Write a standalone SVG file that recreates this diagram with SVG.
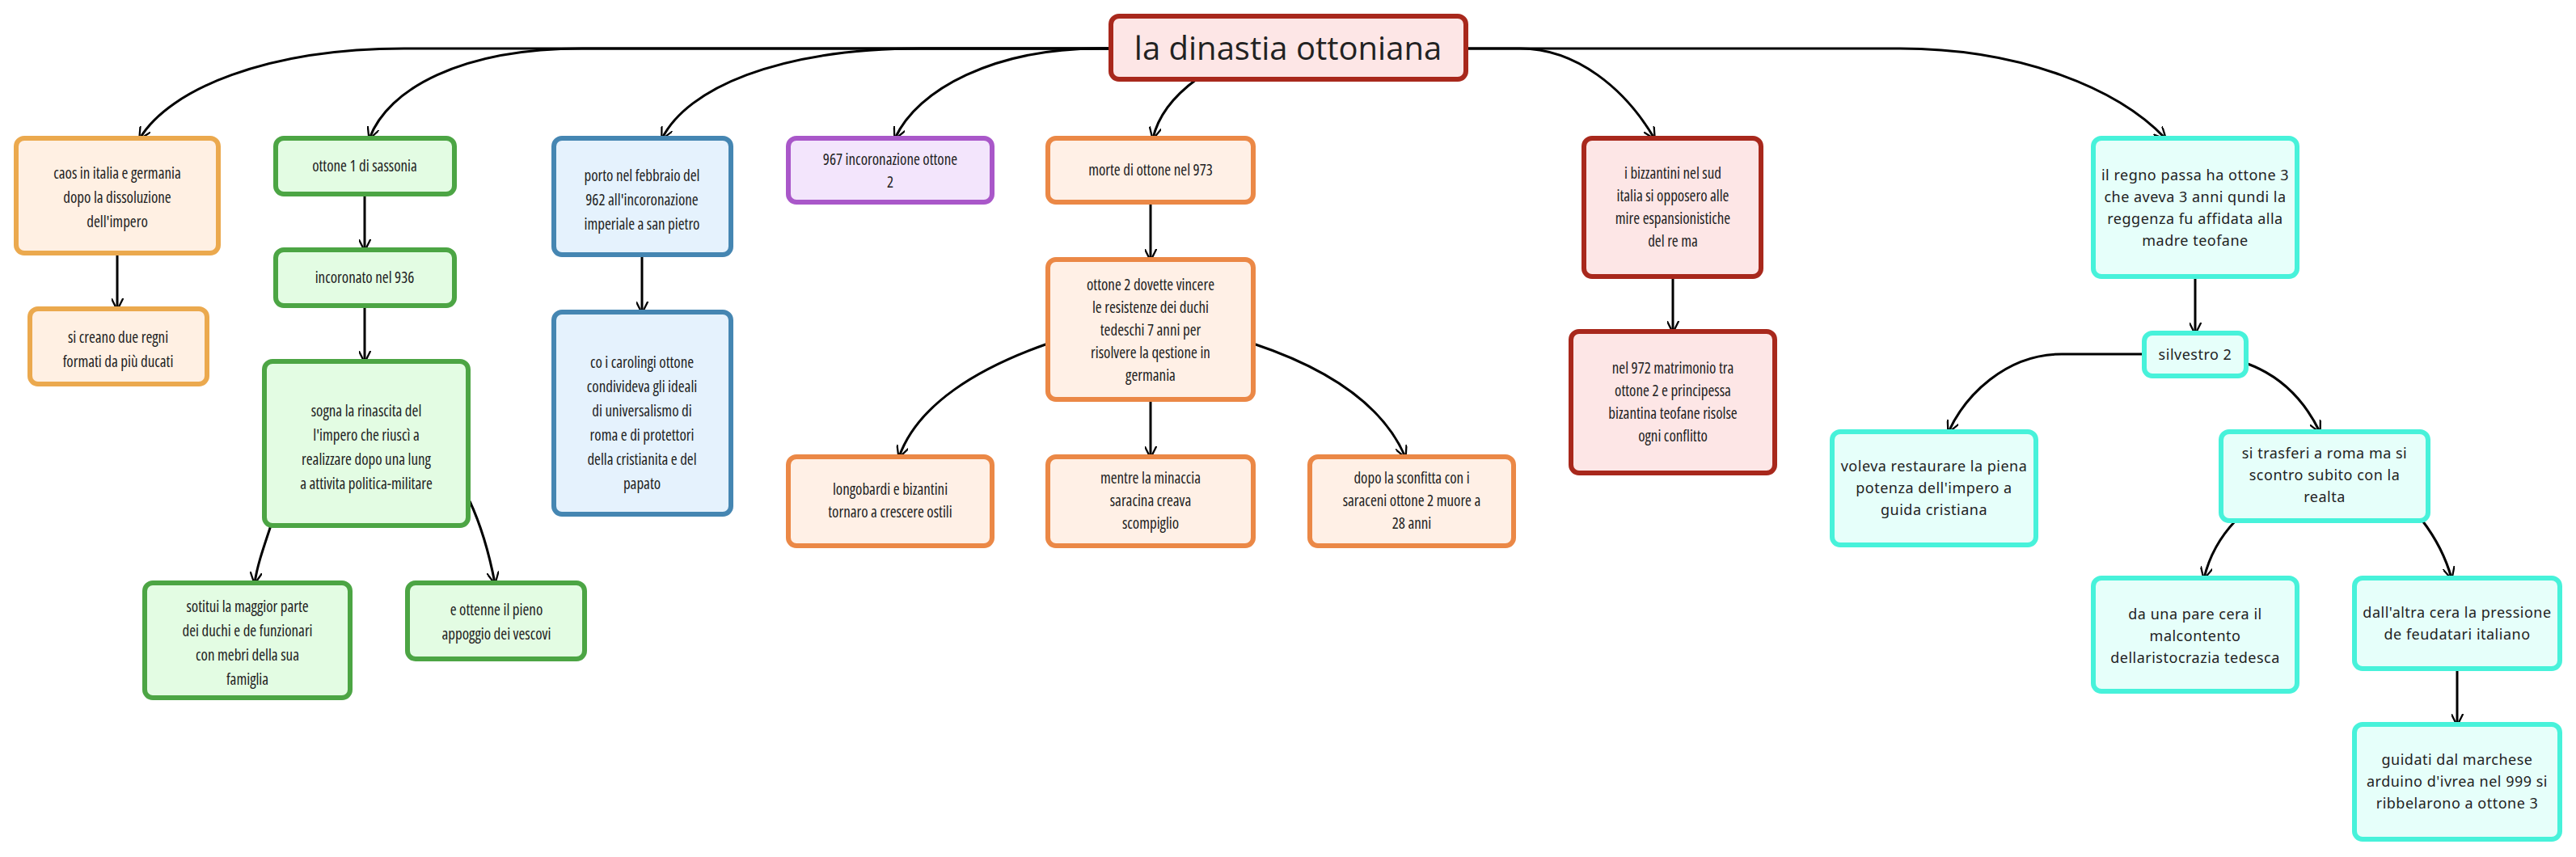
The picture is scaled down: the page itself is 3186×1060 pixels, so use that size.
<svg xmlns="http://www.w3.org/2000/svg" width="3186" height="1060" viewBox="0 0 3186 1060">
<style>
rect{stroke-width:6}
.t{font-family:"Open Sans","Noto Sans",sans-serif;font-size:19px;fill:#222;text-anchor:middle;font-stretch:condensed}
.m{font-family:"Noto Sans","Open Sans",sans-serif;font-size:18px;fill:#222;text-anchor:middle;letter-spacing:0.5px}
.c path{fill:none;stroke:#000;stroke-width:3;marker-end:url(#a)}
.or rect{fill:#FFF0E3;stroke:#EBA94E}
.gr rect{fill:#E3FCE3;stroke:#4CA544}
.bl rect{fill:#E5F2FD;stroke:#4586B2}
.pu rect{fill:#F3E5FC;stroke:#A957C9}
.o2 rect{fill:#FFF0E6;stroke:#EB8846}
.rd rect{fill:#FDE6E6;stroke:#A8281C}
.te rect{fill:#E6FFFA;stroke:#47F2DA}
</style>
<defs><marker id="a" viewBox="0 0 10 10" refX="9" refY="5" markerWidth="5" markerHeight="5" orient="auto"><path d="M0 0L10 5L0 10" fill="none" stroke="#000" stroke-width="1.5"/></marker></defs>
<g class="c">
<path d="M1374 60H500C330 60 210 110 173 171"/>
<path d="M1374 60H720C570 60 480 110 457 171"/>
<path d="M1374 60H1140C960 60 850 110 819 171"/>
<path d="M1374 60H1360C1230 60 1135 110 1107 171"/>
<path d="M1480 98C1450 120 1432 145 1426 171"/>
<path d="M1813 60H1880C1950 60 2010 110 2046 171"/>
<path d="M1813 60H2350C2500 60 2620 110 2678 171"/>
<path d="M145 313V382"/>
<path d="M451 240V309"/>
<path d="M451 378V447"/>
<path d="M335 650C325 680 318 700 315 721"/>
<path d="M581 620C595 650 606 690 612 721"/>
<path d="M794 315V386"/>
<path d="M1423 250V321"/>
<path d="M1296 425C1210 455 1135 500 1112 565"/>
<path d="M1423 494V565"/>
<path d="M1550 425C1640 455 1710 500 1738 565"/>
<path d="M2069 342V410"/>
<path d="M2715 342V412"/>
<path d="M2652 438H2550C2480 438 2430 490 2410 534"/>
<path d="M2780 450C2820 465 2850 495 2869 534"/>
<path d="M2765 644C2745 665 2732 690 2726 715"/>
<path d="M2996 644C3012 665 3025 690 3032 715"/>
<path d="M3039 827V896"/>
</g>
<g id="root" class="rd"><rect x="1374" y="20" width="439" height="78" rx="10"/><text x="1593" y="74" font-family="Open Sans,Noto Sans,sans-serif" font-size="40" text-anchor="middle" fill="#222">la dinastia ottoniana</text></g>
<g id="n1" class="or"><rect x="20" y="171" width="250" height="142" rx="10"/><text class="t" x="145" y="221">caos in italia e germania</text><text class="t" x="145" y="251">dopo la dissoluzione</text><text class="t" x="145" y="281">dell'impero</text></g>
<g id="n2" class="or"><rect x="37" y="382" width="219" height="93" rx="10"/><text class="t" x="146" y="424">si creano due regni</text><text class="t" x="146" y="454">formati da più ducati</text></g>
<g id="n3" class="gr"><rect x="341" y="171" width="221" height="69" rx="10"/><text class="t" x="451" y="212">ottone 1 di sassonia</text></g>
<g id="n4" class="gr"><rect x="341" y="309" width="221" height="69" rx="10"/><text class="t" x="451" y="350">incoronato nel 936</text></g>
<g id="n5" class="gr"><rect x="327" y="447" width="252" height="203" rx="10"/><text class="t" x="453" y="515">sogna la rinascita del</text><text class="t" x="453" y="545">l'impero che riuscì a</text><text class="t" x="453" y="575">realizzare dopo una lung</text><text class="t" x="453" y="605">a attivita politica-militare</text></g>
<g id="n6" class="gr"><rect x="179" y="721" width="254" height="142" rx="10"/><text class="t" x="306" y="757">sotitui la maggior parte</text><text class="t" x="306" y="787">dei duchi e de funzionari</text><text class="t" x="306" y="817">con mebri della sua</text><text class="t" x="306" y="847">famiglia</text></g>
<g id="n7" class="gr"><rect x="504" y="721" width="219" height="94" rx="10"/><text class="t" x="614" y="761">e ottenne il pieno</text><text class="t" x="614" y="791">appoggio dei vescovi</text></g>
<g id="n8" class="bl"><rect x="685" y="171" width="219" height="144" rx="10"/><text class="t" x="794" y="224">porto nel febbraio del</text><text class="t" x="794" y="254">962 all'incoronazione</text><text class="t" x="794" y="284">imperiale a san pietro</text></g>
<g id="n9" class="bl"><rect x="685" y="386" width="219" height="250" rx="10"/><text class="t" x="794" y="455">co i carolingi ottone</text><text class="t" x="794" y="485">condivideva gli ideali</text><text class="t" x="794" y="515">di universalismo di</text><text class="t" x="794" y="545">roma e di protettori</text><text class="t" x="794" y="575">della cristianita e del</text><text class="t" x="794" y="605">papato</text></g>
<g id="n10" class="pu"><rect x="975" y="171" width="252" height="79" rx="10"/><text class="t" x="1101" y="204">967 incoronazione ottone</text><text class="t" x="1101" y="232">2</text></g>
<g id="n11" class="o2"><rect x="1296" y="171" width="254" height="79" rx="10"/><text class="t" x="1423" y="217">morte di ottone nel 973</text></g>
<g id="n12" class="o2"><rect x="1296" y="321" width="254" height="173" rx="10"/><text class="t" x="1423" y="359">ottone 2 dovette vincere</text><text class="t" x="1423" y="387">le resistenze dei duchi</text><text class="t" x="1423" y="415">tedeschi 7 anni per</text><text class="t" x="1423" y="443">risolvere la qestione in</text><text class="t" x="1423" y="471">germania</text></g>
<g id="n13" class="o2"><rect x="975" y="565" width="252" height="110" rx="10"/><text class="t" x="1101" y="612">longobardi e bizantini</text><text class="t" x="1101" y="640">tornaro a crescere ostili</text></g>
<g id="n14" class="o2"><rect x="1296" y="565" width="254" height="110" rx="10"/><text class="t" x="1423" y="598">mentre la minaccia</text><text class="t" x="1423" y="626">saracina creava</text><text class="t" x="1423" y="654">scompiglio</text></g>
<g id="n15" class="o2"><rect x="1620" y="565" width="252" height="110" rx="10"/><text class="t" x="1746" y="598">dopo la sconfitta con i</text><text class="t" x="1746" y="626">saraceni ottone 2 muore a</text><text class="t" x="1746" y="654">28 anni</text></g>
<g id="n16" class="rd"><rect x="1959" y="171" width="219" height="171" rx="10"/><text class="t" x="2069" y="221">i bizzantini nel sud</text><text class="t" x="2069" y="249">italia si opposero alle</text><text class="t" x="2069" y="277">mire espansionistiche</text><text class="t" x="2069" y="305">del re ma</text></g>
<g id="n17" class="rd"><rect x="1943" y="410" width="252" height="175" rx="10"/><text class="t" x="2069" y="462">nel 972 matrimonio tra</text><text class="t" x="2069" y="490">ottone 2 e principessa</text><text class="t" x="2069" y="518">bizantina teofane risolse</text><text class="t" x="2069" y="546">ogni conflitto</text></g>
<g id="n18" class="te"><rect x="2589" y="171" width="252" height="171" rx="10"/><text class="m" x="2715" y="223">il regno passa ha ottone 3</text><text class="m" x="2715" y="250">che aveva 3 anni qundi la</text><text class="m" x="2715" y="277">reggenza fu affidata alla</text><text class="m" x="2715" y="304">madre teofane</text></g>
<g id="n19" class="te"><rect x="2652" y="412" width="126" height="53" rx="10"/><text class="m" x="2715" y="445">silvestro 2</text></g>
<g id="n20" class="te"><rect x="2266" y="534" width="252" height="140" rx="10"/><text class="m" x="2392" y="583">voleva restaurare la piena</text><text class="m" x="2392" y="610">potenza dell'impero a</text><text class="m" x="2392" y="637">guida cristiana</text></g>
<g id="n21" class="te"><rect x="2747" y="534" width="256" height="110" rx="10"/><text class="m" x="2875" y="567">si trasferi a roma ma si</text><text class="m" x="2875" y="594">scontro subito con la</text><text class="m" x="2875" y="621">realta</text></g>
<g id="n22" class="te"><rect x="2589" y="715" width="252" height="140" rx="10"/><text class="m" x="2715" y="766">da una pare cera il</text><text class="m" x="2715" y="793">malcontento</text><text class="m" x="2715" y="820">dellaristocrazia tedesca</text></g>
<g id="n23" class="te"><rect x="2912" y="715" width="254" height="112" rx="10"/><text class="m" x="3039" y="764">dall'altra cera la pressione</text><text class="m" x="3039" y="791">de feudatari italiano</text></g>
<g id="n24" class="te"><rect x="2912" y="896" width="254" height="142" rx="10"/><text class="m" x="3039" y="946">guidati dal marchese</text><text class="m" x="3039" y="973">arduino d'ivrea nel 999 si</text><text class="m" x="3039" y="1000">ribbelarono a ottone 3</text></g>
</svg>
